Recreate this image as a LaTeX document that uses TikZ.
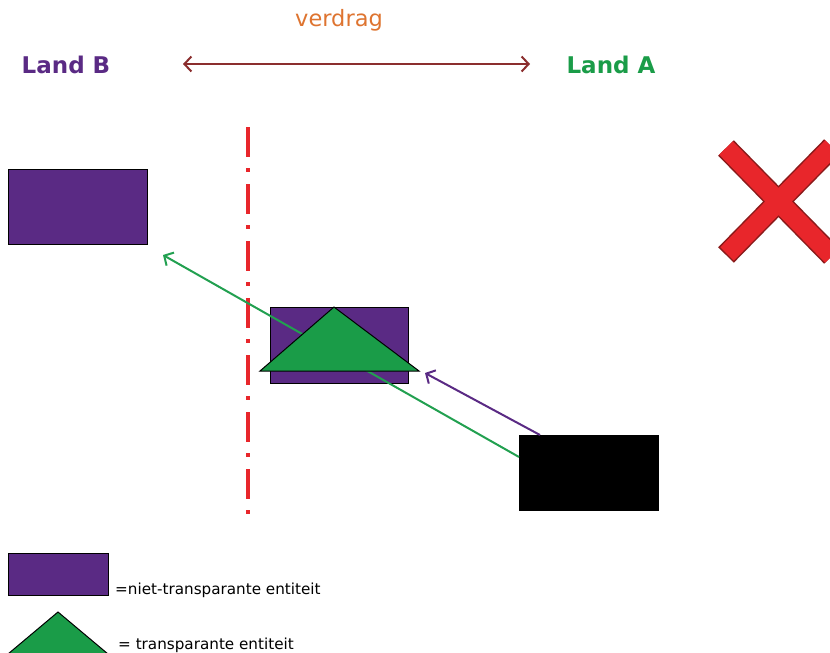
\documentclass[tikz,border=0pt]{standalone}
\usepackage{fontspec}
\setmainfont{DejaVu Sans}
\usetikzlibrary{arrows.meta}
\definecolor{cpurple}{HTML}{5A2A84}
\definecolor{cgreen}{HTML}{1A9C48}
\definecolor{cgline}{HTML}{22A050}
\definecolor{cdred}{HTML}{8B2E2E}
\definecolor{corange}{HTML}{DE7430}
\definecolor{cred}{HTML}{E8262B}
\definecolor{cxborder}{HTML}{8A1A1A}
\tikzset{
  entity/.style={draw=black, line width=1pt, fill=cpurple},
  transp/.style={draw=black, line width=1pt, fill=cgreen},
  barb/.style={-{Straight Barb[length=7pt,width=15pt,line width=2pt]}},
  lbl/.style={inner sep=0pt, anchor=west, font=\fontsize{15.2}{17}\selectfont},
}
\begin{document}
\begin{tikzpicture}[x=1pt,y=-1pt]
\clip (0,0) rectangle (830,653);
\useasboundingbox (0,0) rectangle (830,653);
% header
\node[text=corange, font=\fontsize{22.5}{25}\selectfont] (verdrag) at (339,20) {verdrag};
\node[text=cpurple, font=\bfseries\fontsize{23}{26}\selectfont] (landB) at (66,65) {Land B};
\node[text=cgreen, font=\bfseries\fontsize{23}{26}\selectfont] (landA) at (611,65) {Land A};
\coordinate (tl) at (183,64);
\coordinate (tr) at (530,64);
\draw[cdred, line width=2pt, {Straight Barb[length=7pt,width=15pt,line width=2pt]}-{Straight Barb[length=7pt,width=15pt,line width=2pt]}] (tl) -- (tr);
% border line
\coordinate (bt) at (248,127);
\coordinate (bb) at (248,518);
\draw[cred, line width=3.5pt, dash pattern=on 30pt off 11pt on 4pt off 12pt] (bt) -- (bb);
% entities
\node[entity, minimum width=139pt, minimum height=75pt, inner sep=0pt] (e1) at (77.5,206.5) {};
\node[entity, minimum width=138pt, minimum height=76pt, inner sep=0pt] (e2) at (339,345) {};
\node[draw=black, fill=black, minimum width=139pt, minimum height=75pt, inner sep=0pt] (e3) at (588.5,472.5) {};
% arrows
\coordinate (gs) at (519,457);
\coordinate (ge) at (163,255);
\draw[cgline, line width=2pt, barb] (gs) -- (ge);
\coordinate (ps) at (540,435);
\coordinate (pe) at (425,373);
\draw[cpurple, line width=2pt, barb] (ps) -- (pe);
% transparent entity
\draw[transp] (334,307) -- (419,371) -- (260,371) -- cycle;
% red cross
\coordinate (x1a) at (726,148);
\coordinate (x1b) at (832,256);
\coordinate (x2a) at (726,255);
\coordinate (x2b) at (832,147);
\draw[cxborder, line width=22pt] (x1a) -- (x1b) (x2a) -- (x2b);
\draw[cred, line width=19pt, shorten <=1.5pt] (x1a) -- (x1b) (x2a) -- (x2b);
% legend
\node[entity, minimum width=100pt, minimum height=42pt, inner sep=0pt] (le) at (58,574) {};
\node[lbl] (ltxt1) at (115,590) {=niet-transparante entiteit};
\draw[transp] (58,612) -- (108,654) -- (8,654) -- cycle;
\node[lbl] (ltxt2) at (118,645) {= transparante entiteit};
\end{tikzpicture}
\end{document}
